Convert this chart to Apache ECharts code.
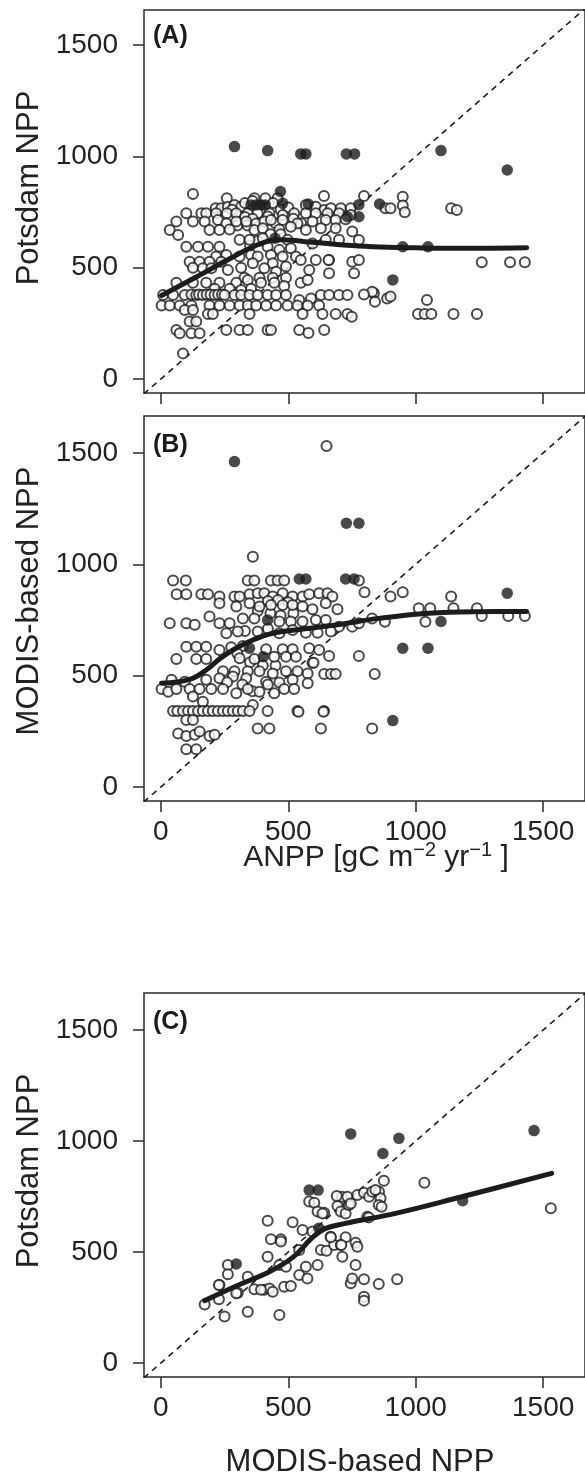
<!DOCTYPE html>
<html>
<head>
<meta charset="utf-8">
<script src="https://cdn.jsdelivr.net/npm/echarts@6/dist/echarts.min.js"></script>
<style>
html,body{margin:0;padding:0;background:#fff;}
#chart{width:585px;height:1477px;}
</style>
</head>
<body>
<div id="chart"></div>
<script>
// ---- tick labels ----
const tickValues = [0, 500, 1000, 1500];

// ---- 1:1 reference line ----
const oneToOne = [[-100, -100], [1800, 1800]];

// ---- Panel A: ANPP (x) vs Potsdam NPP (y) ----
const openA = [
[126,831],[259,812],[367,812],[410,812],[458,812],[640,822],
[215,767],[237,767],[263,774],[289,782],[315,774],[569,782],[608,774],[641,759],[667,767],[706,767],[745,767],
[330,790],[360,800],[440,790],[470,760],[500,770],[280,760],
[100,744],[159,744],[178,744],[217,744],[259,744],[296,744],[341,744],[380,744],[426,744],[478,737],[523,744],[569,744],[608,744],[654,744],[699,744],[745,737],
[330,728],[360,720],[420,730],[450,700],[520,720],[550,700],[300,690],[340,690],
[61,707],[126,707],[172,707],[224,714],[257,699],[296,707],[335,707],[374,699],[406,707],[432,714],[478,714],[536,699],[595,707],[647,714],[686,714],[725,717],
[35,669],[68,647],[191,669],[230,669],[270,672],[367,669],[400,677],[465,672],[510,684],[569,669],[628,677],[686,677],[751,662],
[430,650],[470,650],[350,600],[380,620],
[309,625],[348,625],[400,632],[497,625],[595,609],[647,625],[699,625],
[100,594],[146,594],[185,594],[230,594],[419,594],[465,580],[510,587],
[217,550],[257,557],[309,550],[354,557],[380,550],[432,557],[478,550],[530,550],[549,535],[608,535],[660,535],
[113,527],[152,527],[191,527],[237,527],[361,520],[439,520],[491,505],[751,527],
[126,500],[165,497],[198,497],[263,490],[315,500],[406,497],[452,482],[582,490],
[660,475],[758,475],[328,455],[387,455],[439,455],[491,455],
[61,432],[126,432],[178,432],[230,432],[296,432],[341,445],[393,432],[445,432],[484,418],[549,432],[576,445],
[211,405],[270,405],[315,400],[354,405],
[9,377],[48,377],[94,377],[120,380],[139,377],[150,380],[165,377],[180,380],[195,380],[211,377],[225,380],[240,380],[250,377],[289,377],[315,377],[348,377],[380,377],[419,377],[452,377],[491,377],[543,355],[589,362],[628,377],[660,377],[699,377],[732,377],
[3,330],[35,330],[74,330],[120,330],[191,330],[230,330],[270,330],[309,330],[341,330],[374,330],[413,330],[452,330],[497,330],[536,330],[576,330],[621,330],
[94,310],[126,310],[185,292],[204,292],[348,292],[556,292],[634,292],[686,292],[732,292],[749,280],
[113,258],[139,258],
[61,220],[74,205],[120,205],[152,205],[257,220],[309,220],[341,220],[419,220],[432,220],[543,220],[579,207],[641,220],
[87,115],
[797,822],[949,819],[949,779],[957,749],[881,767],[901,767],[1139,767],[1161,759],[777,624],[777,535],[836,385],[888,362],[901,370],[840,347],[1044,355],
[1009,292],[1035,292],[1061,292],[1148,292],[1240,292],[1259,524],[1370,524],[1428,524],[658,535],[829,392],[797,380]
];
const filledA = [
[289,1044],[419,1026],[549,1011],[569,1011],[728,1011],[760,1011],[1099,1026],[1359,939],
[469,842],[354,782],[374,782],[395,782],[410,782],[478,789],[578,786],[777,783],[858,786],
[732,729],[777,729],[448,632],[949,594],[1048,594],[910,445]
];
const loessA = [[3,375],[139,458],[270,540],[380,603],[470,626],[560,618],[777,597],[947,591],[1116,587],[1435,590]];

// ---- Panel B: ANPP (x) vs MODIS-based NPP (y) ----
const openB = [
[650,1531],[361,1034],
[48,927],[98,927],[341,927],[367,927],[432,927],[458,927],[484,927],[777,927],
[62,865],[100,865],[159,865],[185,865],[230,855],[289,855],[309,855],[348,865],[380,870],[406,870],[439,855],[478,870],[517,855],[556,855],[582,865],[621,870],[654,870],[673,855],
[420,835],[460,840],[500,830],[380,790],[430,780],[470,770],[520,780],
[230,825],[296,810],[348,825],[387,810],[432,817],[478,817],[517,817],[556,810],[595,798],[647,825],[693,798],
[35,735],[100,735],[133,728],[191,765],[230,735],[270,735],[322,757],[367,757],[465,743],[510,743],[556,743],[608,750],[647,750],[699,720],[751,720],[777,735],
[330,700],[420,710],
[257,690],[302,698],[380,698],[465,690],[517,705],[569,693],[615,693],[667,698],
[100,630],[139,630],[178,630],[230,615],[276,627],[322,633],[413,618],[478,618],[517,618],[582,623],[621,615],
[300,600],[350,560],[400,545],[450,545],
[61,575],[139,575],[178,575],[309,578],[367,575],[445,585],[491,585],[530,585],[595,558],[660,588],[777,588],
[244,520],[289,520],[341,520],[387,520],[439,510],[491,520],[536,520],[576,510],[641,507],[667,507],[686,507],
[42,481],[94,473],[178,481],[230,488],[283,496],[335,488],[413,473],[465,469],[517,481],[576,466],
[260,470],[320,460],[360,430],[420,460],
[3,440],[29,428],[61,440],[113,440],[152,440],[198,440],[244,440],[296,421],[341,440],[387,428],[445,421],[484,440],[523,440],
[126,406],[165,383],[361,368],
[48,341],[65,341],[87,341],[107,341],[126,341],[146,341],[165,341],[185,341],[204,341],[224,341],[244,341],[263,341],[283,341],[302,341],[322,341],[348,341],[419,341],[536,341],[640,341],
[100,301],[126,301],
[380,263],[426,263],[628,263],[829,263],
[68,240],[100,229],[133,234],[152,249],[191,229],[211,234],
[100,169],[139,169],
[799,874],[901,855],[949,874],[1139,855],[1012,802],[1057,802],[1148,802],[1240,802],[1038,742],[879,742],[829,757],[1259,768],[1363,768],[1428,768],[839,507],[599,558],[540,338],[638,338]
];
const filledB = [
[289,1461],[728,1184],[777,1184],[543,934],[569,934],[725,934],[758,934],[1359,870],
[1099,743],[949,623],[1048,623],[910,298],[348,623],[402,585],[419,750]
];
const loessB = [[3,466],[113,483],[178,525],[230,575],[283,615],[361,660],[439,690],[543,707],[699,730],[855,757],[1051,780],[1246,787],[1435,788]];

// ---- Panel C: MODIS-based NPP (x) vs Potsdam NPP (y) ----
const openC = [
[172,264],[228,287],[250,209],[230,351],[263,441],[263,400],[302,317],[341,231],[341,389],[367,332],
[406,330],[426,336],[439,321],[465,216],[465,441],[484,344],[510,347],[491,434],[543,396],[575,381],
[419,479],[419,641],[432,557],[471,557],[471,547],[517,634],[543,509],[556,599],[569,434],[595,592],
[615,441],[628,509],[650,506],[582,727],[602,722],[615,682],[641,677],[666,569],[680,532],[706,532],
[725,566],[764,542],[771,524],[712,479],[764,441],[693,707],[706,682],[725,674],[738,712],[710,749],
[690,752],[732,749],[745,719],[771,757],[797,767],[817,749],[829,772],[856,772],[862,742],[855,712],
[810,659],[875,821],[1034,812],[1530,697],[745,359],[751,381],[797,377],[797,299],[797,281],[855,356],
[927,377],[228,351],[296,314],[393,330],[667,566],[708,532],[634,674],[866,704],[842,779],[816,656]
];
const filledC = [[745,1032],[934,1012],[871,944],[1464,1047],[582,779],[617,779],[1184,731],[296,446],[620,607]];
const loessC = [[172,281],[296,347],[426,411],[520,478],[590,560],[640,603],[720,628],[921,674],[1181,749],[1533,854]];

// ---------------- layout ----------------
const INK = '#1c1c1c';
const FONT = 'Liberation Sans, Arial, sans-serif';
const X_MIN = -66, X_MAX = 1664;
const grids = [
  {left:144, top:10,  width:443, height:383, ymin:-63, ymax:1657.6},
  {left:144, top:416, width:443, height:385, ymin:-63, ymax:1665.8},
  {left:144, top:993, width:443, height:384, ymin:-63, ymax:1666.7}
];
const panels = [
  {open:openA, filled:filledA, loess:loessA, xLabels:false},
  {open:openB, filled:filledB, loess:loessB, xLabels:true},
  {open:openC, filled:filledC, loess:loessC, xLabels:true}
];
const plain = v => String(Math.round(v));

const option = {
  animation:false,
  backgroundColor:'#fff',
  grid: grids.map(g => ({left:g.left, top:g.top, width:g.width, height:g.height, show:true,
      borderColor:'#2a2a2a', borderWidth:1.5, backgroundColor:'transparent'})),
  xAxis: grids.map((g,i) => ({
    type:'value', gridIndex:i, min:X_MIN, max:X_MAX, position:'bottom',
    axisLine:{show:false, onZero:false}, splitLine:{show:false},
    axisTick:{show:true, inside:false, length:11, customValues:tickValues, lineStyle:{color:'#2a2a2a', width:1.5}},
    axisLabel:{show:panels[i].xLabels, customValues:tickValues, formatter:plain, fontSize:28, color:'#222', margin:17, fontFamily:FONT}
  })),
  yAxis: grids.map((g,i) => ({
    type:'value', gridIndex:i, min:g.ymin, max:g.ymax, position:'left',
    axisLine:{show:false, onZero:false}, splitLine:{show:false},
    axisTick:{show:true, inside:false, length:11, customValues:tickValues, lineStyle:{color:'#2a2a2a', width:1.5}},
    axisLabel:{show:true, customValues:tickValues, formatter:plain, fontSize:28, color:'#222', margin:26, fontFamily:FONT}
  })),
  series: [],
  graphic: [
    {type:'text', x:153, y:36, style:{text:'(A)', fill:INK, font:'bold 25px '+FONT, verticalAlign:'middle'}},
    {type:'text', x:153, y:445, style:{text:'(B)', fill:INK, font:'bold 25px '+FONT, verticalAlign:'middle'}},
    {type:'text', x:153, y:1022, style:{text:'(C)', fill:INK, font:'bold 25px '+FONT, verticalAlign:'middle'}},
    {type:'text', x:29, y:188, rotation:Math.PI/2, style:{text:'Potsdam NPP', font:'31px '+FONT, fill:'#222', align:'center', verticalAlign:'middle'}},
    {type:'text', x:29, y:601, rotation:Math.PI/2, style:{text:'MODIS-based NPP', font:'31px '+FONT, fill:'#222', align:'center', verticalAlign:'middle'}},
    {type:'text', x:29, y:1171, rotation:Math.PI/2, style:{text:'Potsdam NPP', font:'31px '+FONT, fill:'#222', align:'center', verticalAlign:'middle'}},
    {type:'text', x:376, y:858, style:{
      text:'{a|ANPP [gC m}{s|\u22122}{a| yr}{s|\u22121}{a| ]}',
      align:'center', verticalAlign:'middle',
      rich:{
        a:{fontSize:30, fontFamily:FONT, fill:'#222', color:'#222'},
        s:{fontSize:20, fontFamily:FONT, fill:'#222', color:'#222', padding:[0,0,16,0]}
      }}},
    {type:'text', x:360, y:1462, style:{text:'MODIS-based NPP', font:'31px '+FONT, fill:'#222', align:'center', verticalAlign:'middle'}}
  ]
};

panels.forEach((p,i) => {
  option.series.push({
    type:'line', xAxisIndex:i, yAxisIndex:i, data:oneToOne, symbol:'none', silent:true, clip:true, z:1,
    lineStyle:{type:[6,5], width:1.6, color:INK}
  });
  option.series.push({
    type:'scatter', xAxisIndex:i, yAxisIndex:i, data:p.open, symbol:'circle', symbolSize:10, z:2,
    itemStyle:{color:'#fff', borderColor:INK, borderWidth:2}
  });
  option.series.push({
    type:'scatter', xAxisIndex:i, yAxisIndex:i, data:p.filled, symbol:'circle', symbolSize:11.5, z:3,
    itemStyle:{color:INK}
  });
  option.series.push({
    type:'line', xAxisIndex:i, yAxisIndex:i, data:p.loess, symbol:'none', smooth:0.4, z:4, silent:true,
    lineStyle:{width:5, color:INK, cap:'round'}
  });
});

const chart = echarts.init(document.getElementById('chart'), null, {renderer:'canvas'});
chart.setOption(option);
</script>
</body>
</html>
